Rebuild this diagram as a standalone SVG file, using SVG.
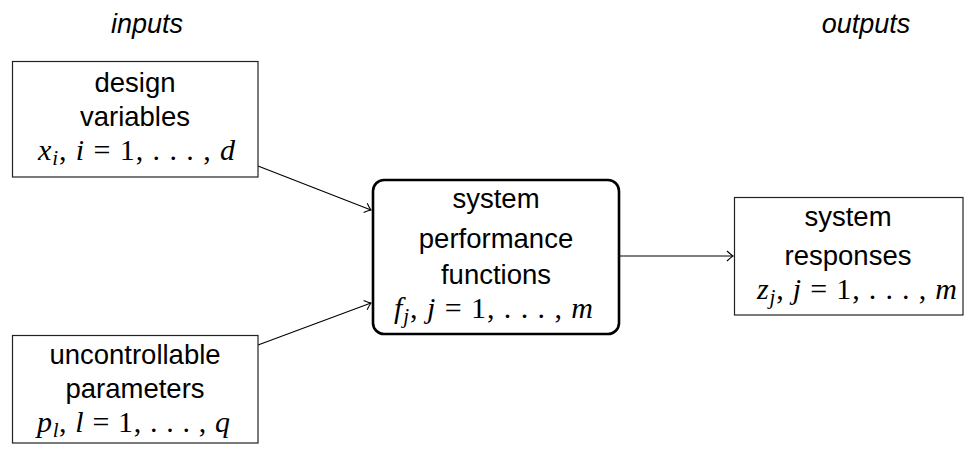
<svg xmlns="http://www.w3.org/2000/svg" width="976" height="455" viewBox="0 0 976 455">
  <style>
    .box { fill: #fff; stroke: #222; stroke-width: 1.2; }
    .main { fill: #fff; stroke: #000; stroke-width: 2.6; }
    .lbl { font-family: "Liberation Sans", Arial, sans-serif; font-size: 27.5px; fill: #000; text-anchor: middle; }
    .hdr { font-family: "Liberation Sans", Arial, sans-serif; font-size: 27px; font-style: italic; fill: #000; text-anchor: middle; }
    .math { font-family: "Liberation Serif", "Times New Roman", serif; font-size: 30px; fill: #000; }
    .it { font-style: italic; }
    .sub { font-size: 21px; font-style: italic; }
    .edge { fill: none; stroke: #000; stroke-width: 1.1; }
  </style>
  <defs>
    <marker id="arr" viewBox="-7 -6 8 12" markerWidth="8" markerHeight="12" refX="0" refY="0" orient="auto" markerUnits="userSpaceOnUse">
      <path d="M-6,-5 Q-2,-1.2 0,0 Q-2,1.2 -6,5" fill="none" stroke="#000" stroke-width="1.1"/>
    </marker>
  </defs>

  <text class="hdr" x="147" y="33">inputs</text>
  <text class="hdr" x="866" y="33">outputs</text>

  <g id="connectors">
    <line class="edge" x1="258" y1="166" x2="371" y2="210" marker-end="url(#arr)"/>
    <line class="edge" x1="258" y1="345" x2="371" y2="303" marker-end="url(#arr)"/>
    <line class="edge" x1="619" y1="256" x2="733" y2="256" marker-end="url(#arr)"/>
  </g>

  <g id="design-variables">
    <rect class="box" x="12.5" y="61.5" width="245.5" height="115.5"/>
    <text class="lbl" x="135" y="92">design</text>
    <text class="lbl" x="135" y="126">variables</text>
    <text class="math" x="38" y="160" textLength="197" lengthAdjust="spacing"><tspan class="it">x</tspan><tspan class="sub" dy="5">i</tspan><tspan dy="-5">, </tspan><tspan class="it">i</tspan> = 1, . . . , <tspan class="it">d</tspan></text>
  </g>

  <g id="uncontrollable-parameters">
    <rect class="box" x="12.5" y="335.5" width="245.5" height="107.5"/>
    <text class="lbl" x="135" y="364">uncontrollable</text>
    <text class="lbl" x="135" y="398">parameters</text>
    <text class="math" x="37" y="432" textLength="193" lengthAdjust="spacing"><tspan class="it">p</tspan><tspan class="sub" dy="5">l</tspan><tspan dy="-5">, </tspan><tspan class="it">l</tspan> = 1, . . . , <tspan class="it">q</tspan></text>
  </g>

  <g id="system-performance">
    <rect class="main" x="373" y="180" width="246" height="154" rx="11" ry="11"/>
    <text class="lbl" x="496" y="208">system</text>
    <text class="lbl" x="496" y="248">performance</text>
    <text class="lbl" x="496" y="284">functions</text>
    <text class="math" x="394" y="318" textLength="199" lengthAdjust="spacing"><tspan class="it">f</tspan><tspan class="sub" dy="5">j</tspan><tspan dy="-5">, </tspan><tspan class="it">j</tspan> = 1, . . . , <tspan class="it">m</tspan></text>
  </g>

  <g id="system-responses">
    <rect class="box" x="734.5" y="197.5" width="228.5" height="117.5"/>
    <text class="lbl" x="848" y="226">system</text>
    <text class="lbl" x="848" y="265">responses</text>
    <text class="math" x="757" y="299" textLength="200" lengthAdjust="spacing"><tspan class="it">z</tspan><tspan class="sub" dy="5">j</tspan><tspan dy="-5">, </tspan><tspan class="it">j</tspan> = 1, . . . , <tspan class="it">m</tspan></text>
  </g>
</svg>
